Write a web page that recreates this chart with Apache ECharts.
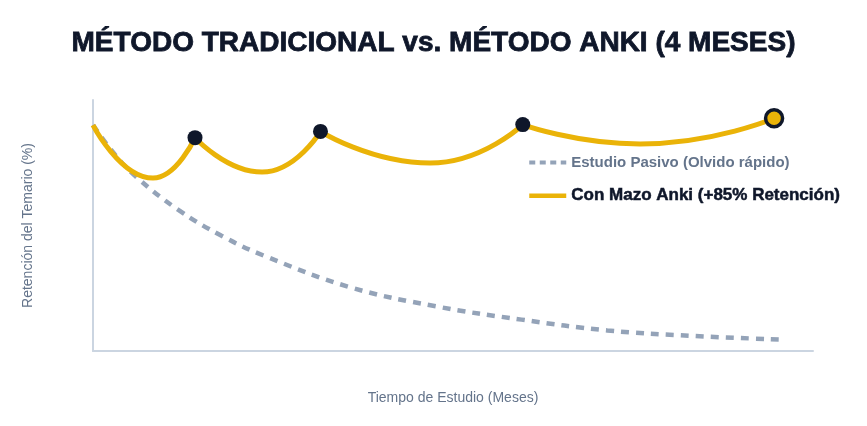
<!DOCTYPE html>
<html>
<head>
<meta charset="utf-8">
<script src="https://cdn.jsdelivr.net/npm/echarts@6/dist/echarts.min.js"></script>
<style>
  html, body { margin: 0; padding: 0; background: #ffffff; }
  #chart { width: 867px; height: 426px; }
</style>
</head>
<body>
<div id="chart"></div>
<script>
// estudio pasivo (curva del olvido)
var passiveMonths = [0, 0.125, 0.25, 0.5, 0.75, 1, 1.5, 2, 2.5, 3, 3.5, 4];
var passiveRetention = [90, 78.5, 69.5, 56.1, 45.9, 37.9, 25.4, 17.8, 12.5, 8.2, 6.0, 4.6];

// con mazo anki: un tramo entre cada repaso (inicio, valle, repaso)
var ankiMonths1 = [0, 0.35, 0.595];
var ankiRetention1 = [90, 68.9, 85.0];
var ankiMonths2 = [0.595, 0.986, 1.327];
var ankiRetention2 = [85.0, 71.3, 87.5];
var ankiMonths3 = [1.327, 1.966, 2.507];
var ankiRetention3 = [87.5, 74.9, 90.2];
var ankiMonths4 = [2.507, 3.191, 3.973];
var ankiRetention4 = [90.2, 82.5, 92.7];

var PASSIVE = 'Estudio Pasivo (Olvido rápido)';
var ANKI = 'Con Mazo Anki (+85% Retención)';
var NAVY = '#0f172a';
var GOLD = '#eab308';

function ankiSeries(xs, ys, last) {
  var data = xs.map(function (x, i) {
    var item = { value: [x, ys[i]] };
    if (i === xs.length - 1) {
      item.symbol = 'circle';
      if (last) {
        item.symbolSize = 17;
        item.itemStyle = { color: GOLD, borderColor: NAVY, borderWidth: 3.5 };
      } else {
        item.symbolSize = 15;
        item.itemStyle = { color: NAVY, borderWidth: 0 };
      }
    }
    return item;
  });
  return {
    name: ANKI,
    type: 'line',
    smooth: 0.55,
    symbol: 'none',
    showSymbol: true,
    z: 3,
    lineStyle: { color: GOLD, width: 5 },
    itemStyle: { color: GOLD },
    data: data
  };
}

var chart = echarts.init(document.getElementById('chart'));

var option = {
  animation: false,
  backgroundColor: '#ffffff',
  textStyle: { fontFamily: 'Liberation Sans, Arial, sans-serif' },
  title: {
    text: 'MÉTODO TRADICIONAL vs. MÉTODO ANKI (4 MESES)',
    left: 'center',
    top: 24,
    textStyle: {
      fontSize: 28, fontWeight: 'bold', color: NAVY,
      fontFamily: 'Liberation Sans, Arial, sans-serif',
      textBorderColor: NAVY, textBorderWidth: 0.8
    }
  },
  legend: {
    orient: 'vertical',
    left: 522,
    top: 150,
    itemGap: 17,
    itemWidth: 37,
    itemHeight: 14,
    itemStyle: { opacity: 0 },
    data: [
      {
        name: PASSIVE,
        lineStyle: { width: 4, type: [6, 4.5] },
        textStyle: { color: '#64748b', fontWeight: 'bold', fontSize: 15 }
      },
      {
        name: ANKI,
        lineStyle: { width: 4.5 },
        textStyle: {
          color: NAVY, fontWeight: 'bold', fontSize: 17,
          textBorderColor: NAVY, textBorderWidth: 0.5
        }
      }
    ]
  },
  grid: { left: 93, right: 54, top: 100, bottom: 75 },
  xAxis: {
    type: 'value',
    min: 0,
    max: 4.2,
    name: 'Tiempo de Estudio (Meses)',
    nameLocation: 'middle',
    nameGap: 40,
    nameTextStyle: { color: '#64748b', fontSize: 14 },
    axisLine: { show: true, lineStyle: { color: '#cbd5e1', width: 2 } },
    axisTick: { show: false },
    axisLabel: { show: false },
    splitLine: { show: false }
  },
  yAxis: {
    type: 'value',
    min: 0,
    max: 100,
    name: 'Retención del Temario (%)',
    nameLocation: 'middle',
    nameGap: 58,
    nameTextStyle: { color: '#64748b', fontSize: 14 },
    axisLine: { show: true, lineStyle: { color: '#cbd5e1', width: 2 } },
    axisTick: { show: false },
    axisLabel: { show: false },
    splitLine: { show: false }
  },
  series: [
    {
      name: PASSIVE,
      type: 'line',
      smooth: 0.4,
      symbol: 'none',
      z: 2,
      lineStyle: { color: '#94a3b8', width: 4.5, type: [8, 7] },
      itemStyle: { color: '#94a3b8' },
      data: passiveMonths.map(function (x, i) { return [x, passiveRetention[i]]; })
    },
    ankiSeries(ankiMonths1, ankiRetention1, false),
    ankiSeries(ankiMonths2, ankiRetention2, false),
    ankiSeries(ankiMonths3, ankiRetention3, false),
    ankiSeries(ankiMonths4, ankiRetention4, true)
  ]
};

chart.setOption(option);
</script>
</body>
</html>
